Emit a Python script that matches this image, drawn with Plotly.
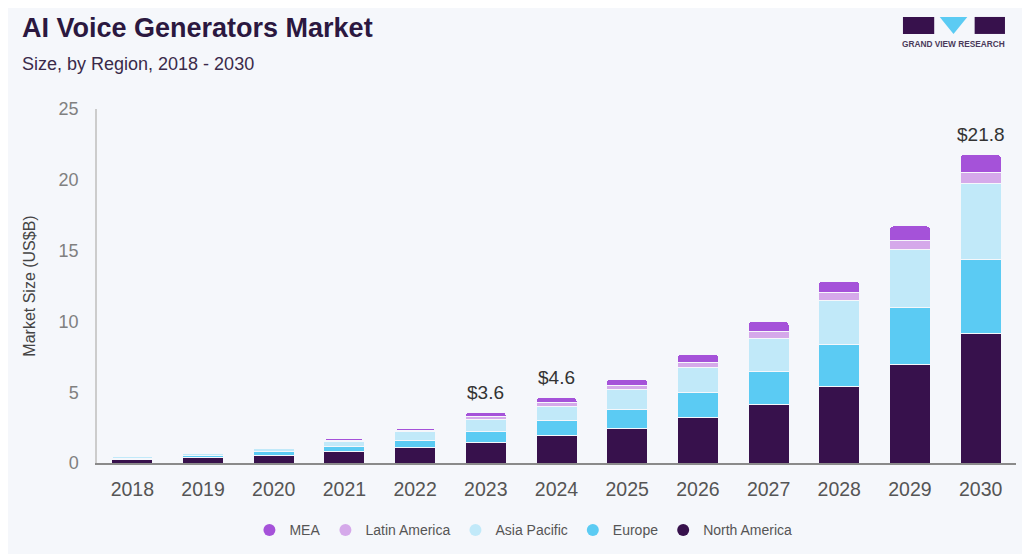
import plotly.graph_objects as go

# Market size by region, US$ billion
years = ["2018", "2019", "2020", "2021", "2022", "2023", "2024",
         "2025", "2026", "2027", "2028", "2029", "2030"]
northAmerica = [0.25, 0.38, 0.55, 0.80, 1.08, 1.46, 1.91, 2.45, 3.20, 4.14, 5.39, 6.99, 9.16]
europe = [0.10, 0.14, 0.25, 0.37, 0.50, 0.80, 1.08, 1.36, 1.77, 2.31, 3.01, 4.01, 5.18]
asiaPacific = [0.10, 0.18, 0.22, 0.38, 0.65, 0.82, 0.99, 1.39, 1.76, 2.35, 3.11, 4.09, 5.41]
latinAmerica = [0.03, 0.04, 0.06, 0.07, 0.10, 0.19, 0.30, 0.26, 0.38, 0.47, 0.55, 0.61, 0.75]
mea = [0.04, 0.05, 0.08, 0.10, 0.12, 0.31, 0.36, 0.47, 0.57, 0.71, 0.79, 1.04, 1.30]

# totals printed above a few bars
labelYears = ["2023", "2024", "2030"]
labelTexts = ["$3.6", "$4.6", "$21.8"]

series = [
    ("North America", northAmerica, "#37114c"),
    ("Europe", europe, "#5bcbf3"),
    ("Asia Pacific", asiaPacific, "#c1e9f9"),
    ("Latin America", latinAmerica, "#d5a9ea"),
    ("MEA", mea, "#a552d9"),
]

font = "Liberation Sans, Arial, sans-serif"
bg = "#f5f7fb"

fig = go.Figure()
for name, vals, col in series:
    fig.add_trace(go.Bar(x=years, y=vals, name=name, marker_color=col,
                         marker_line_color=bg, marker_line_width=1,
                         showlegend=False, legendgroup=name))

# circle markers for the legend (no visible point)
for name, vals, col in reversed(series):
    fig.add_trace(go.Scatter(x=[years[0]], y=[None], mode="markers", name=name,
                             marker=dict(color=col, size=14, symbol="circle"),
                             legendgroup=name))

totals = [round(sum(v), 2) for v in zip(northAmerica, europe, asiaPacific, latinAmerica, mea)]
for yr, txt in zip(labelYears, labelTexts):
    i = years.index(yr)
    fig.add_annotation(x=i, y=totals[i], text=txt, showarrow=False,
                       yanchor="bottom", yshift=7,
                       font=dict(size=19, color="#333333", family=font))

# title block
fig.add_annotation(xref="paper", yref="paper", x=-0.0838, y=1.229, xanchor="left",
                   yanchor="middle", showarrow=False,
                   text="<b>AI Voice Generators Market</b>",
                   font=dict(size=27, color="#2b1840", family=font))
fig.add_annotation(xref="paper", yref="paper", x=-0.0838, y=1.127, xanchor="left",
                   yanchor="middle", showarrow=False,
                   text="Size, by Region, 2018 - 2030",
                   font=dict(size=18, color="#3a2a4a", family=font))

# logo
fig.add_shape(type="rect", xref="paper", yref="paper", x0=0.877, x1=0.911,
              y0=1.212, y1=1.260, fillcolor="#37114c", line_width=0)
fig.add_shape(type="path", xref="paper", yref="paper",
              path="M 0.917 1.260 L 0.947 1.260 L 0.932 1.212 Z",
              fillcolor="#5bcbf3", line_width=0)
fig.add_shape(type="rect", xref="paper", yref="paper", x0=0.955, x1=0.988,
              y0=1.212, y1=1.260, fillcolor="#37114c", line_width=0)
fig.add_annotation(xref="paper", yref="paper", x=0.932, y=1.184, showarrow=False,
                   text="<b>GRAND VIEW RESEARCH</b>", xanchor="center", yanchor="middle",
                   font=dict(size=8.3, color="#4a3a5a", family=font))

# page body adds an 8px offset, so margins are shifted to compensate
fig.update_layout(
    barmode="stack",
    bargap=0.42,
    barcornerradius=4,
    width=1030, height=554,
    margin=dict(l=89, r=22, t=101, b=99),
    paper_bgcolor=bg, plot_bgcolor=bg,
    font=dict(family=font),
    legend=dict(orientation="h", x=0.464, xanchor="center", y=-0.145, yanchor="top",
                font=dict(size=14, color="#555555"), itemsizing="constant",
                itemwidth=30, traceorder="normal"),
    xaxis=dict(type="category", categoryorder="array", categoryarray=years,
               range=[-0.5, len(years) - 0.5], showgrid=False, showline=True,
               linecolor="#8a8a8a", linewidth=1.5, ticks="", ticklabelstandoff=8,
               tickfont=dict(size=19.5, color="#555555")),
    yaxis=dict(range=[0, 25], dtick=5, showgrid=False, zeroline=False,
               showline=True, linecolor="#cccccc", linewidth=1.5,
               ticklabelstandoff=13,
               tickfont=dict(size=18, color="#808080"),
               title=dict(text="Market Size (US$B)", standoff=19,
                          font=dict(size=16, color="#444444"))),
)

fig.write_html("out.html")
